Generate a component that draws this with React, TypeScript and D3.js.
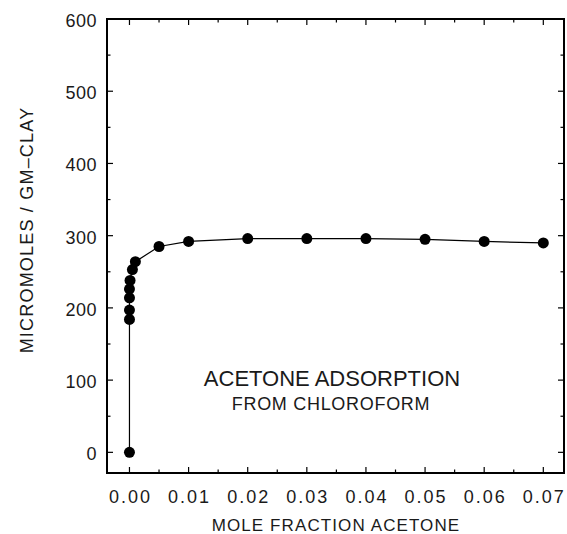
import React from "react";
import * as d3 from "d3";

const moleFraction = [0, 0, 0, 0, 0, 0.0001, 0.0005, 0.001, 0.005, 0.01, 0.02, 0.03, 0.04, 0.05, 0.06, 0.07];
const adsorption = [0, 184, 197, 214, 226, 238, 253, 264, 285, 292, 296, 296, 296, 295, 292, 290];
const xTicks = [0, 0.01, 0.02, 0.03, 0.04, 0.05, 0.06, 0.07];
const xMinor = [0.005, 0.015, 0.025, 0.035, 0.045, 0.055, 0.065];
const yTicks = [0, 100, 200, 300, 400, 500, 600];
const yMinor = [50, 150, 250, 350, 450, 550];
const xTitle = "MOLE FRACTION ACETONE";
const yTitle = "MICROMOLES / GM–CLAY";
const note1 = "ACETONE ADSORPTION";
const note2 = "FROM CHLOROFORM";

export default function App() {
  const W = 567, H = 534;
  const L = 107, R = 564, T = 19, B = 473;
  const x = d3.scaleLinear().domain([-0.0038, 0.0735]).range([L, R]);
  const y = d3.scaleLinear().domain([-28.6, 600]).range([B, T]);
  const pts = moleFraction.map((m, i) => [m, adsorption[i]] as [number, number]);
  const line = d3.line<[number, number]>().x(d => x(d[0])).y(d => y(d[1]));
  const font = "'Liberation Sans', Arial, sans-serif";
  const ink = "#1a1a1a";
  const major = 6, minor = 3.5;
  return (
    <svg width={W} height={H} style={{ position: "absolute", left: 0, top: 0, background: "#fff" }}>
      <rect x={L} y={T} width={R - L} height={B - T} fill="none" stroke="#000" strokeWidth={2} />
      {xTicks.map(t => (
        <g key={"xt" + t}>
          <line x1={x(t)} x2={x(t)} y1={B} y2={B - major} stroke="#000" strokeWidth={1.2} />
          <line x1={x(t)} x2={x(t)} y1={T} y2={T + major} stroke="#000" strokeWidth={1.2} />
          <text x={x(t) + 1} y={503} textAnchor="middle" fontFamily={font} fontSize={18} letterSpacing={2} fill={ink}>{d3.format(".2f")(t)}</text>
        </g>
      ))}
      {xMinor.map(t => (
        <g key={"xm" + t}>
          <line x1={x(t)} x2={x(t)} y1={B} y2={B - minor} stroke="#000" strokeWidth={1.2} />
          <line x1={x(t)} x2={x(t)} y1={T} y2={T + minor} stroke="#000" strokeWidth={1.2} />
        </g>
      ))}
      {yTicks.map(t => (
        <g key={"yt" + t}>
          <line x1={L} x2={L + major} y1={y(t)} y2={y(t)} stroke="#000" strokeWidth={1.2} />
          <line x1={R} x2={R - major} y1={y(t)} y2={y(t)} stroke="#000" strokeWidth={1.2} />
          <text x={97} y={y(t) + 8} textAnchor="end" fontFamily={font} fontSize={18} letterSpacing={0.5} fill={ink}>{t}</text>
        </g>
      ))}
      {yMinor.map(t => (
        <g key={"ym" + t}>
          <line x1={L} x2={L + minor} y1={y(t)} y2={y(t)} stroke="#000" strokeWidth={1.2} />
          <line x1={R} x2={R - minor} y1={y(t)} y2={y(t)} stroke="#000" strokeWidth={1.2} />
        </g>
      ))}
      <path d={line(pts) || ""} fill="none" stroke="#000" strokeWidth={1.2} />
      {pts.map((p, i) => (
        <circle key={i} cx={x(p[0])} cy={y(p[1])} r={5.5} fill="#000" />
      ))}
      <text x={336} y={531} textAnchor="middle" fontFamily={font} fontSize={17} letterSpacing={1.1} fill={ink}>{xTitle}</text>
      <text transform={`translate(33,230) rotate(-90)`} textAnchor="middle" fontFamily={font} fontSize={18} letterSpacing={1.2} fill={ink}>{yTitle}</text>
      <text x={332} y={386} textAnchor="middle" fontFamily={font} fontSize={22} fill={ink}>{note1}</text>
      <text x={331} y={410} textAnchor="middle" fontFamily={font} fontSize={18} letterSpacing={0.7} fill={ink}>{note2}</text>
    </svg>
  );
}
